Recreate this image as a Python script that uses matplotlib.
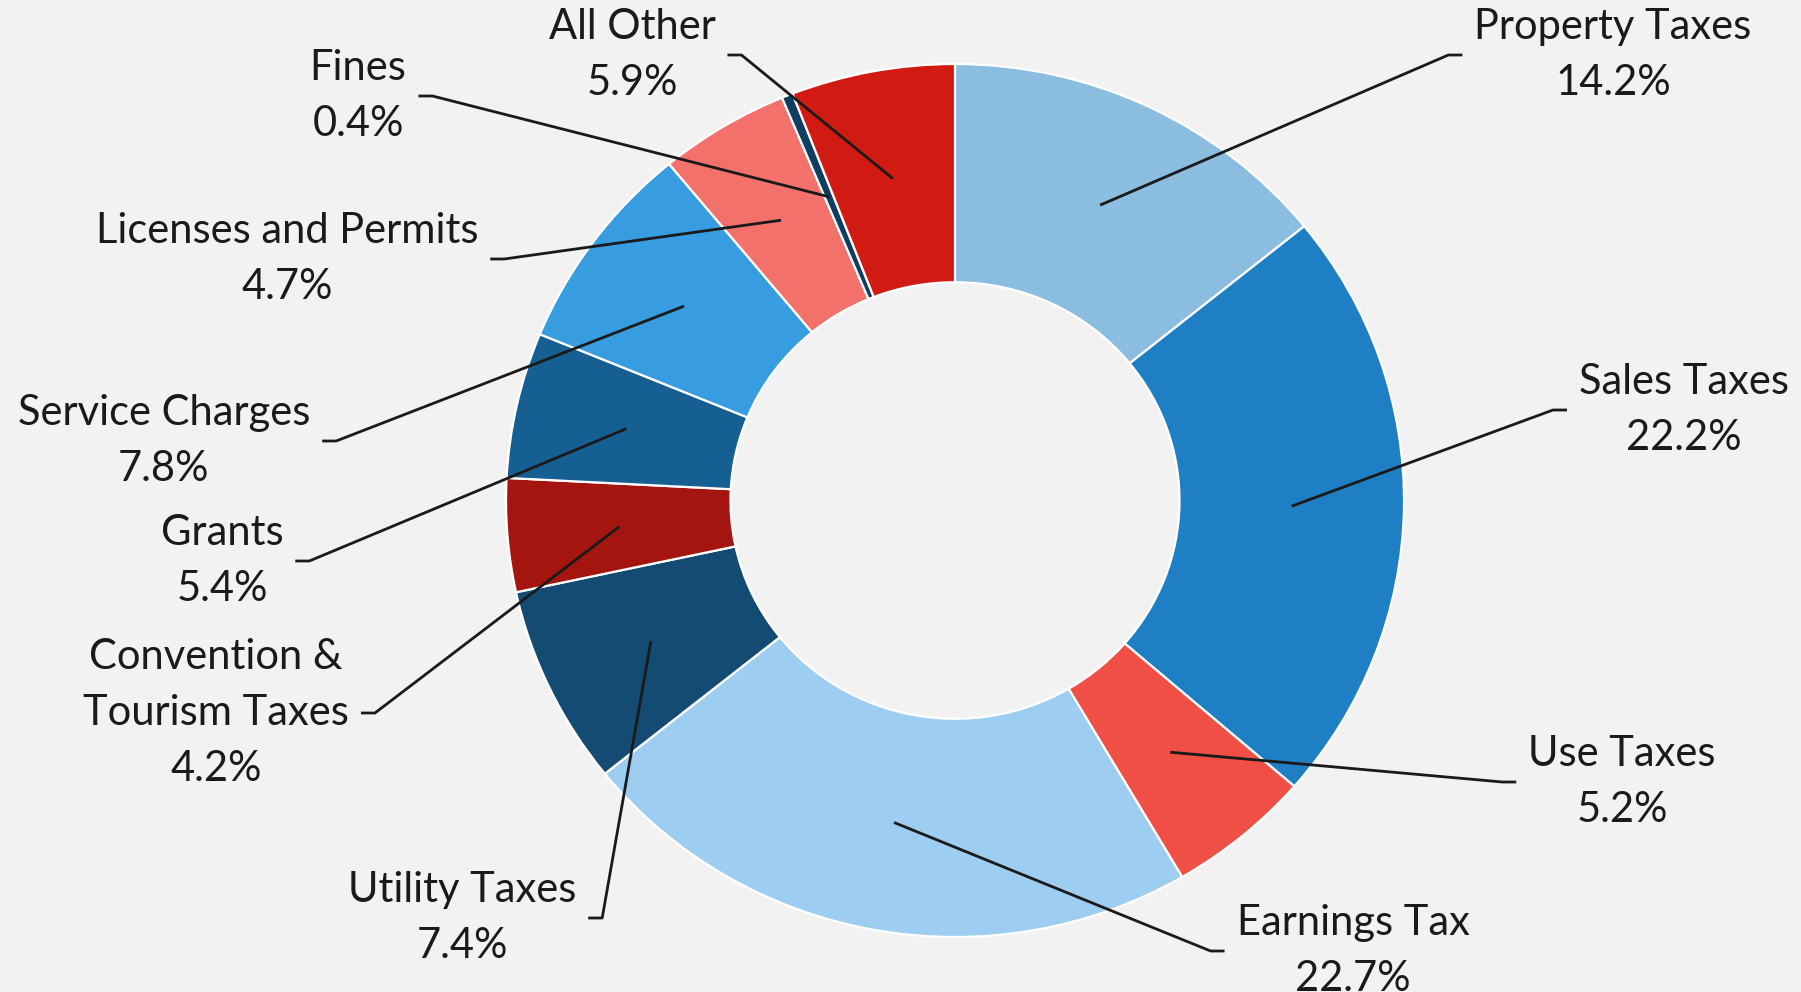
import matplotlib
matplotlib.use("Agg")
import matplotlib.pyplot as plt
import numpy as np

plt.rcParams['font.family'] = ['Lato', 'DejaVu Sans']

# revenue shares, clockwise from 12 o'clock
labels = ['Property Taxes', 'Sales Taxes', 'Use Taxes', 'Earnings Tax', 'Utility Taxes',
          'Convention &\nTourism Taxes', 'Grants', 'Service Charges',
          'Licenses and Permits', 'Fines', 'All Other']
shares = [14.2, 22.2, 5.2, 22.7, 7.4, 4.2, 5.4, 7.8, 4.7, 0.4, 5.9]
colors = ['#8bbde0', '#1f7fc4', '#ef4f45', '#9dcdf0', '#134b73', '#a51510',
          '#155f92', '#389ce0', '#f2716a', '#0f3f60', '#d11b12']

# label block centres, in pixels of the 1801x992 image (layout only)
label_px = [(1613, 55), (1684, 410), (1622, 782), (1353, 951), (462, 918),
            (216, 713), (222, 561), (164, 441), (287, 259), (358, 96), (632, 55)]

W, H = 1801, 992
cx, cy = 955, 500.5        # pie centre in px
rx, ry = 449, 436.5        # one data unit in px (picture is slightly stretched)

fig = plt.figure(figsize=(W / 100, H / 100), dpi=100, facecolor='#f2f2f2')
ax = fig.add_axes([0, 0, 1, 1])
ax.set_facecolor('#f2f2f2')

wedges, _ = ax.pie(shares, startangle=90, counterclock=False, colors=colors,
                   radius=1.0, wedgeprops=dict(width=0.5, edgecolor='white', linewidth=1.6))
ax.set_aspect('auto')
ax.set_xlim(-cx / rx, (W - cx) / rx)
ax.set_ylim(-(H - cy) / ry, cy / ry)
ax.axis('off')

texts = []
for lab, v, (px, py) in zip(labels, shares, label_px):
    x = (px - cx) / rx
    y = (cy - py) / ry
    t = ax.text(x, y, '%s\n%.1f%%' % (lab, v), ha='center', va='center',
                fontsize=30, color='#1a1a1a', linespacing=1.57)
    texts.append(t)

fig.canvas.draw()
r = fig.canvas.get_renderer()
inv = ax.transData.inverted()
gap, tick = 12, 14
for w, t, (px, py) in zip(wedges, texts, label_px):
    mid = np.deg2rad((w.theta1 + w.theta2) / 2)
    ax0, ay0 = 0.75 * np.cos(mid), 0.75 * np.sin(mid)
    bb = t.get_window_extent(r)
    ymid = (bb.y0 + bb.y1) / 2
    if px > cx:
        x_end = bb.x0 - gap
        x_elb = x_end - tick
    else:
        x_end = bb.x1 + gap
        x_elb = x_end + tick
    (ex, ey), (kx, ky) = inv.transform([(x_end, ymid), (x_elb, ymid)])
    ax.plot([ax0, kx, ex], [ay0, ky, ey], color='#1a1a1a', lw=2, solid_capstyle='butt')

fig.savefig('out.png', dpi=100, facecolor='#f2f2f2')
